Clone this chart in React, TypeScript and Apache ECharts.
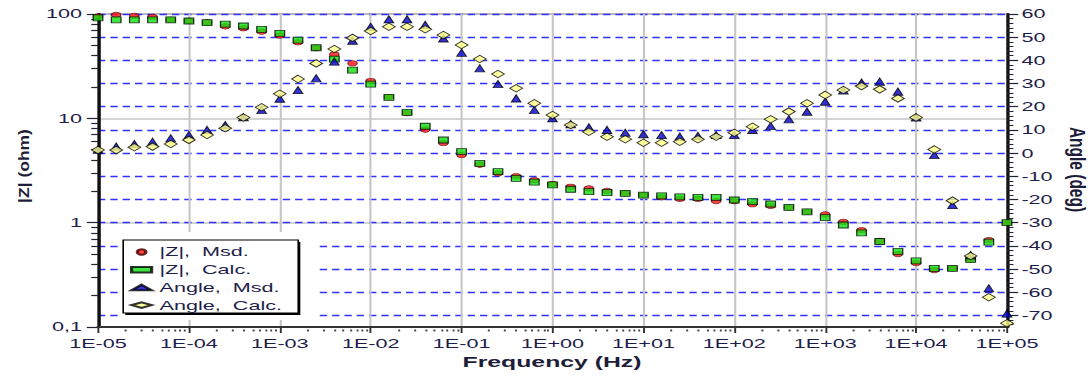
import React, { useEffect, useRef } from 'react';
import * as echarts from 'echarts';

// The reference picture is horizontally stretched; the chart is drawn narrower and stretched by CSS.
const STRETCH = 1.6;
const INNER_W = 1092 / STRETCH;
const H = 376;

const frequencies = [
  1.0e-5, 1.585e-5, 2.512e-5, 3.981e-5, 6.31e-5,
  1.0e-4, 1.585e-4, 2.512e-4, 3.981e-4, 6.31e-4,
  1.0e-3, 1.585e-3, 2.512e-3, 3.981e-3, 6.31e-3,
  1.0e-2, 1.585e-2, 2.512e-2, 3.981e-2, 6.31e-2,
  1.0e-1, 1.585e-1, 2.512e-1, 3.981e-1, 6.31e-1,
  1.0, 1.585, 2.512, 3.981, 6.31,
  10, 15.85, 25.12, 39.81, 63.1,
  100, 158.5, 251.2, 398.1, 631,
  1000, 1585, 2512, 3981, 6310,
  10000, 15850, 25120, 39810, 63100,
  100000,
];

const zMeasured = [
  95, 98, 96, 94, 88, 86, 83, 76, 73, 67.7,
  62, 53.6, 47, 41, 33.7, 22.8, 16, 11.2, 7.8, 5.8,
  4.45, 3.6, 2.97, 2.8, 2.55, 2.35, 2.21, 2.13, 2.02, 1.91,
  1.84, 1.75, 1.69, 1.69, 1.61, 1.61, 1.5, 1.45, 1.4, 1.27,
  1.2, 1.02, 0.85, 0.67, 0.5, 0.41, 0.35, 0.365, 0.445, 0.68,
  1.0,
];

const zCalculated = [
  92, 88, 88, 88, 88, 85.7, 82.5, 80, 76.7, 71.3,
  65.3, 56.3, 47.5, 37, 29, 21.3, 15.9, 11.4, 8.4, 6.2,
  4.79, 3.7, 3.08, 2.66, 2.45, 2.3, 2.09, 1.98, 1.94, 1.91,
  1.84, 1.81, 1.77, 1.75, 1.75, 1.65, 1.59, 1.51, 1.4, 1.27,
  1.12, 0.95, 0.8, 0.66, 0.53, 0.43, 0.365, 0.365, 0.445, 0.65,
  1.0,
];

const angleMeasured = [
  1.5, 2.8, 3.9, 4.9, 6.4, 7.8, 10.0, 12.1, 15.5, 18.6,
  23.5, 27.2, 32.3, 39.5, 48.5, 54.5, 57.7, 57.7, 55.3, 49.5,
  43.3, 36.6, 29.8, 23.6, 18.6, 15.0, 12.5, 11.1, 10.0, 8.8,
  8.2, 7.8, 7.1, 7.4, 7.8, 7.8, 10.0, 11.7, 14.6, 17.9,
  22.2, 27.0, 30.4, 30.8, 26.5, 15.4, -0.8, -22.4, -44.0, -58.3,
  -69.2,
];

const angleCalculated = [
  1.3, 1.3, 2.5, 2.8, 3.9, 5.7, 7.8, 10.7, 15.4, 19.8,
  25.6, 32.0, 38.7, 44.9, 49.7, 52.7, 54.5, 54.5, 53.4, 50.9,
  46.6, 40.6, 34.1, 28.0, 21.5, 16.4, 12.1, 9.2, 7.1, 6.0,
  4.5, 4.5, 4.9, 6.0, 7.1, 8.8, 11.4, 14.6, 17.9, 21.5,
  25.1, 27.2, 28.9, 27.5, 23.6, 15.4, 1.6, -20.5, -44.4, -62.2,
  -73.4,
];

const xTicks = [1e-5, 1e-4, 1e-3, 1e-2, 1e-1, 1, 10, 100, 1000, 10000, 100000];
const xTickLabels = ['1E-05', '1E-04', '1E-03', '1E-02', '1E-01', '1E+00', '1E+01', '1E+02', '1E+03', '1E+04', '1E+05'];
const zTicks = [0.1, 1, 10, 100];
const zTickLabels = ['0,1', '1', '10', '100'];
const angleTicks = [-70, -60, -50, -40, -30, -20, -10, 0, 10, 20, 30, 40, 50, 60];
const legendNames = ['|Z|,  Msd.', '|Z|,  Calc.', 'Angle,  Msd.', 'Angle,  Calc.'];
const xName = 'Frequency (Hz)';
const zName = '|Z| (ohm)';
const angleName = 'Angle (deg)';

function nearestIndex(list: number[], v: number, log: boolean) {
  let best = 0;
  let bestD = Infinity;
  list.forEach((t, i) => {
    const d = log ? Math.abs(Math.log10(t) - Math.log10(v)) : Math.abs(t - v);
    if (d < bestD) { bestD = d; best = i; }
  });
  return best;
}

export default function App() {
  const ref = useRef<HTMLDivElement>(null);

  useEffect(() => {
    const el = ref.current as HTMLDivElement;
    const chart = echarts.init(el, null, { renderer: 'svg', width: INNER_W, height: H });
    const FONT = 'Liberation Sans, Arial, sans-serif';
    const labelColor = '#1e1e4a';
    const axisColor = '#111';

    const xMinor: number[] = [];
    for (let e = -5; e < 5; e++) for (let m = 2; m <= 9; m++) xMinor.push(Number((m * Math.pow(10, e)).toPrecision(3)));
    const zMinor: number[] = [];
    for (let e = -1; e < 2; e++) for (let m = 2; m <= 9; m++) zMinor.push(Number((m * Math.pow(10, e)).toPrecision(3)));
    const angleMinor: number[] = [];
    for (let a = -74; a <= 60; a += 2) angleMinor.push(a);

    const plotRight = 1007 / STRETCH;

    const option: any = {
      animation: false,
      grid: {
        left: 98 / STRETCH,
        right: INNER_W - plotRight,
        top: 14,
        bottom: 49,
        show: true,
        borderColor: '#333',
        borderWidth: 1,
        backgroundColor: 'transparent',
      },
      xAxis: [
        {
          type: 'log', logBase: 10, min: 1e-5, max: 1e5, position: 'bottom',
          axisLine: { show: true, onZero: false, lineStyle: { color: '#333', width: 2 } },
          axisTick: { show: true, length: 6, customValues: xTicks, lineStyle: { color: '#333', width: 1.2 } },
          axisLabel: {
            customValues: xTicks,
            margin: 9,
            fontFamily: FONT, fontSize: 13.5, color: labelColor,
            formatter: (v: number) => xTickLabels[nearestIndex(xTicks, v, true)],
          },
          splitLine: { show: true, lineStyle: { color: '#c6c6c6', width: 1.3 } },
        },
        {
          type: 'log', logBase: 10, min: 1e-5, max: 1e5, position: 'bottom', offset: 2.5,
          axisLine: { show: false, onZero: false },
          axisTick: { show: true, length: 2, customValues: xMinor, lineStyle: { color: '#444', width: 1.2 } },
          axisLabel: { show: false },
          splitLine: { show: false },
        },
      ],
      yAxis: [
        {
          type: 'log', logBase: 10, min: 0.1, max: 100, position: 'left',
          axisLine: { show: true, onZero: false, lineStyle: { color: axisColor, width: 2 } },
          axisTick: { show: true, length: 7, customValues: zTicks, lineStyle: { color: '#223', width: 1.2 } },
          axisLabel: {
            customValues: zTicks,
            margin: 10,
            fontFamily: FONT, fontSize: 13.5, color: labelColor,
            formatter: (v: number) => zTickLabels[nearestIndex(zTicks, v, true)],
          },
          splitLine: { show: true, lineStyle: { color: '#c6c6c6', width: 1.5 } },
        },
        {
          type: 'log', logBase: 10, min: 0.1, max: 100, position: 'left',
          axisLine: { show: false, onZero: false },
          axisTick: { show: true, length: 4.2, customValues: zMinor, lineStyle: { color: '#223', width: 1.2 } },
          axisLabel: { show: false },
          splitLine: { show: false },
        },
        {
          type: 'value', min: -75, max: 60, position: 'right',
          axisLine: { show: true, onZero: false, lineStyle: { color: axisColor, width: 2 } },
          axisTick: { show: true, length: 7, customValues: angleTicks, lineStyle: { color: '#223', width: 1.2 } },
          axisLabel: {
            customValues: angleTicks,
            margin: 9,
            fontFamily: FONT, fontSize: 13.5, color: labelColor,
            formatter: (v: number) => String(angleTicks[nearestIndex(angleTicks, v, false)]),
          },
          splitLine: { show: true, lineStyle: { color: '#3030ff', width: 1.3, type: [4.6, 3.1] } },
        },
        {
          type: 'value', min: -75, max: 60, position: 'right',
          axisLine: { show: false, onZero: false },
          axisTick: { show: true, length: 4, customValues: angleMinor, lineStyle: { color: '#223', width: 1 } },
          axisLabel: { show: false },
          splitLine: { show: false },
        },
      ],
      legend: {
        data: legendNames,
        orient: 'vertical',
        left: 77,
        top: 240,
        z: 10,
        padding: [5, 4, 2, 4.25],
        itemWidth: 12.5,
        itemHeight: 5.5,
        itemGap: 3.7,
        selectedMode: false,
        textStyle: { fontFamily: FONT, fontSize: 13.5, color: labelColor, lineHeight: 14 },
      },
      graphic: [
        { type: 'rect', z: 5, shape: { x: 75, y: 232, width: 124, height: 88 }, style: { fill: '#fff' } },
        { type: 'rect', z: 5, shape: { x: 78.3, y: 242, width: 109.4, height: 73 }, style: { fill: '#000' } },
        { type: 'rect', z: 5, shape: { x: 77, y: 240, width: 109.4, height: 73 }, style: { fill: '#fff', stroke: '#000', lineWidth: 1 } },
        {
          type: 'text', z: 5, x: 15.3, y: 166, rotation: Math.PI / 2, scaleY: 0.5,
          style: { text: zName, fontFamily: FONT, fontSize: 17.5, fontWeight: 'bold', fill: '#1e1e3a', align: 'center', verticalAlign: 'middle' },
        },
        {
          type: 'text', z: 5, x: 673.4, y: 169.5, rotation: -Math.PI / 2, scaleY: 0.9,
          style: { text: angleName, fontFamily: FONT, fontSize: 15.5, fontWeight: 'bold', fill: '#1e1e3a', align: 'center', verticalAlign: 'middle' },
        },
        {
          type: 'text', z: 5, x: 552 / STRETCH, y: 361,
          style: { text: xName, fontFamily: FONT, fontSize: 15.5, fontWeight: 'bold', fill: '#1e1e3a', align: 'center', verticalAlign: 'middle' },
        },
      ],
      series: [
        {
          name: legendNames[0], type: 'scatter', xAxisIndex: 0, yAxisIndex: 0,
          symbol: 'circle', symbolSize: [6, 5.5],
          itemStyle: { color: '#ff1010', borderColor: '#400', borderWidth: 0.6 },
          data: frequencies.map((f, i) => [f, zMeasured[i]]),
        },
        {
          name: legendNames[1], type: 'scatter', xAxisIndex: 0, yAxisIndex: 0,
          symbol: 'rect', symbolSize: [6, 6],
          itemStyle: { color: '#10e010', borderColor: '#000', borderWidth: 0.8 },
          data: frequencies.map((f, i) => [f, zCalculated[i]]),
        },
        {
          name: legendNames[2], type: 'scatter', xAxisIndex: 0, yAxisIndex: 2,
          symbol: 'triangle', symbolSize: [6, 7.2],
          itemStyle: { color: '#0000d0', borderColor: '#000', borderWidth: 0.8 },
          data: frequencies.map((f, i) => [f, angleMeasured[i]]),
        },
        {
          name: legendNames[3], type: 'scatter', xAxisIndex: 0, yAxisIndex: 2,
          symbol: 'diamond', symbolSize: [8, 7.5],
          itemStyle: { color: '#ffff88', borderColor: '#000', borderWidth: 0.8 },
          data: frequencies.map((f, i) => [f, angleCalculated[i]]),
        },
      ],
    };

    chart.setOption(option);
    return () => chart.dispose();
  }, []);

  return (
    <div style={{ position: 'absolute', left: 0, top: 0, width: 1092, height: H, overflow: 'hidden', background: '#fff' }}>
      <div
        ref={ref}
        style={{ width: INNER_W, height: H, transform: `scaleX(${STRETCH})`, transformOrigin: '0 0' }}
      />
    </div>
  );
}
